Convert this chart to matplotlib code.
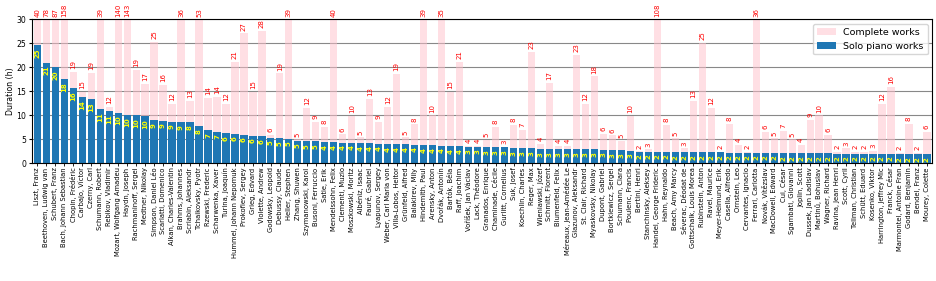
import matplotlib
matplotlib.use("Agg")
import matplotlib.pyplot as plt
import numpy as np

composers = [
    "Liszt, Franz", "Beethoven, Ludwig van", "Schubert, Franz", "Bach, Johann Sebastian",
    "Chopin, Frédéric", "Carbajo, Víctor", "Czerny, Carl", "Schumann, Robert",
    "Rebikov, Vladimir", "Mozart, Wolfgang Amadeu", "Haydn, Joseph", "Rachmaninoff, Sergei",
    "Medtner, Nikolay", "Simpson, Daniel Léo", "Scarlatti, Domenico", "Alkan, Charles-Valentin",
    "Brahms, Johannes", "Scriabin, Aleksandr", "Tchaikovsky, Pyotr", "Rzewski, Frederic",
    "Scharwenka, Xaver", "Turina, Joaquín", "Hummel, Johann Nepomuk", "Prokofiev, Sergey",
    "Grieg, Edvard", "Violette, Andrew", "Godowsky, Leopold", "Debussy, Claude",
    "Heller, Stephen", "Zhang, Shuwen", "Szymanowski, Karol", "Busoni, Ferruccio",
    "Satie, Erik", "Mendelssohn, Felix", "Clementi, Muzio", "Moszkowski, Moritz",
    "Albéniz, Isaac", "Fauré, Gabriel", "Lyapunov, Sergey", "Weber, Carl Maria von",
    "Villa-Lobos, Heitor", "Grünfeld, Alfred", "Balakirev, Mily", "Hindemith, Paul",
    "Arensky, Anton", "Dvořák, Antonín", "Bartók, Béla", "Raff, Joachim",
    "Voříšek, Jan Václav", "Lack, Théodore", "Granados, Enrique", "Chaminade, Cécile",
    "Gurlitt, Cornelius", "Suk, Josef", "Koechlin, Charles", "Reger, Max",
    "Wieniawski, Józef", "Schmitt, Florent", "Blumenfeld, Felix", "Méreaux, Jean-Amédée Le",
    "Glazunov, Aleksandr", "St. Clair, Richard", "Myaskovsky, Nikolay", "Dupont, Gabriel",
    "Bortkiewicz, Sergei", "Schumann, Clara", "Poulenc, Francis", "Bertini, Henri",
    "Stanchinsky, Aleksey", "Handel, George Frideric", "Hahn, Reynaldo", "Beach, Amy Marcy",
    "Séverac, Déodat de", "Gottschalk, Louis Morea", "Rubinstein, Anton", "Ravel, Maurice",
    "Meyer-Helmund, Erik", "Casella, Alfredo", "Ornstein, Leo", "Cervantes, Ignacio",
    "Ferrari, Carlotta", "Novák, Vítězslav", "MacDowell, Edward", "Cui, César",
    "Sgambati, Giovanni", "Joplin, Scott", "Dussek, Jan Ladislav", "Martinů, Bohuslav",
    "Wagner, Richard", "Ravina, Jean Henri", "Scott, Cyril", "Tellman, Christian",
    "Schütt, Eduard", "Kosenko, Viktor", "Harrington, Jeffrey Mic", "Franck, César",
    "Marmontel, Antoine Fran", "Godard, Benjamin", "Bendel, Franz", "Mourey, Colette",
]

complete_hours = [
    40, 78, 87, 158, 19.0, 14.9, 18.9, 39,
    11.7, 140, 143, 19.4, 16.6, 25.3, 16.3, 12.4,
    36, 13.0, 53, 13.7, 13.8, 12.4, 21.1, 27.1,
    14.9, 27.6, 5.9, 18.75, 39, 5.0, 11.6, 8.7,
    7.6, 40, 6.0, 9.9, 5.4, 13.4, 8.6, 11.8,
    18.7, 5.4, 8.1, 39, 10.0, 35, 14.9, 21.1,
    3.7, 3.7, 4.9, 7.6, 3.4, 8.0, 6.9, 23.3,
    4.0, 16.7, 3.7, 3.6, 22.6, 12.4, 18.1, 6.1,
    5.8, 4.65, 9.9, 2.48, 2.9, 108, 8.0, 5.2,
    3.1, 13.0, 25.1, 11.6, 2.4, 8.2, 3.9, 2.3,
    36, 6.5, 5.2, 6.7, 5.0, 3.9, 9.0, 10.0,
    5.9, 2.4, 3.1, 2.3, 2.3, 2.6, 12.4, 16.0,
    2.2, 8.2, 2.1, 6.5,
]

solo_hours = [
    24.6, 20.9, 20.0, 17.5, 15.6, 13.8, 13.3, 11.3,
    10.8, 10.5, 10.1, 10.0, 9.8, 9.0, 8.9, 8.7,
    8.6, 8.5, 7.8, 6.9, 6.6, 6.3, 6.2, 5.9,
    5.7, 5.6, 5.3, 5.2, 5.1, 4.7, 4.6, 4.55,
    4.45, 4.4, 4.3, 4.3, 4.2, 4.2, 4.1, 4.0,
    4.0, 4.0, 3.9, 3.8, 3.75, 3.7, 3.6, 3.6,
    3.45, 3.45, 3.4, 3.35, 3.3, 3.2, 3.1, 3.1,
    3.0, 3.0, 3.0, 2.95, 2.9, 2.9, 2.9, 2.8,
    2.7, 2.7, 2.6, 2.45, 2.45, 2.4, 2.4, 2.35,
    2.3, 2.3, 2.3, 2.3, 2.25, 2.2, 2.2, 2.2,
    2.2, 2.15, 2.15, 2.1, 2.1, 2.1, 2.1, 2.1,
    2.05, 2.0, 2.0, 2.0, 2.0, 2.0, 1.95, 1.95,
    1.9, 1.9, 1.9, 1.85,
]

ymax = 30

fig, ax = plt.subplots(figsize=(9.37, 2.81), dpi=100)
fig.subplots_adjust(left=0.034, right=0.995, top=0.931, bottom=0.419)

x = np.arange(len(composers))
ax.set_axisbelow(True)
ax.yaxis.grid(True, color="#888888", linewidth=0.8)

ax.bar(x, complete_hours, width=0.8, color="pink", alpha=0.5, label="Complete works")
ax.bar(x, solo_hours, width=0.8, color="#1f77b4", label="Solo piano works")

for xi, c, s in zip(x, complete_hours, solo_hours):
    ax.annotate(f"{round(c)}", (xi, min(c, ymax)), xytext=(0, 2), textcoords="offset points",
                ha="center", va="bottom", rotation=90, fontsize=5, color="red",
                annotation_clip=False)
    ax.annotate(f"{round(s)}", (xi, s), xytext=(0, -2), textcoords="offset points",
                ha="center", va="top", rotation=90, fontsize=5, color="yellow",
                fontweight="bold")

ax.set_xlim(-0.6, len(composers) - 0.4)
ax.set_ylim(0, ymax)
ax.set_xticks(x)
ax.set_xticklabels(composers, rotation=90, fontsize=4.9)
ax.tick_params(axis="x", length=2, width=0.6, pad=1)
ax.tick_params(axis="y", labelsize=5.6, length=2.5, pad=1.5)
ax.set_ylabel("Duration (h)", fontsize=5.6, labelpad=1)
ax.legend(loc="upper right", fontsize=6.8)

fig.savefig("out.png", dpi=100)
